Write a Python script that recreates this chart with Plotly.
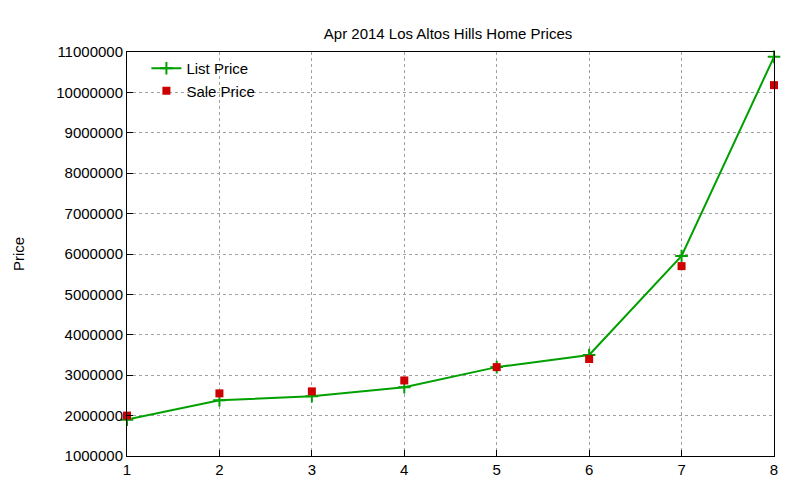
import plotly.graph_objects as go

homes = [1, 2, 3, 4, 5, 6, 7, 8]
list_price = [1900000, 2380000, 2480000, 2700000, 3200000, 3500000, 5950000, 10880000]
sale_price = [2000000, 2550000, 2600000, 2870000, 3200000, 3400000, 5700000, 10180000]

fig = go.Figure()
fig.add_trace(go.Scatter(x=homes, y=list_price, name='List Price', mode='lines+markers',
                         cliponaxis=False,
                         line=dict(color='#00a000', width=2),
                         marker=dict(symbol='cross-thin', size=9, line=dict(color='#00a000', width=2))))
fig.add_trace(go.Scatter(x=homes, y=sale_price, name='Sale Price', mode='markers',
                         cliponaxis=False,
                         marker=dict(symbol='square', size=8, color='#cc0000')))

axis = dict(showline=True, mirror=True, linecolor='black', linewidth=1,
            ticks='inside', ticklen=6, tickcolor='black', automargin=False,
            showgrid=True, gridcolor='#a0a0a0', griddash='dot', gridwidth=1,
            zeroline=False, tickfont=dict(size=15, color='black'))

fig.update_layout(
    width=800, height=480,
    title=dict(text='Apr 2014 Los Altos Hills Home Prices', x=0.55, xanchor='center', y=0.958,
               font=dict(size=15, color='black')),
    font=dict(family='Liberation Sans, Arial, sans-serif', color='black'),
    paper_bgcolor='white', plot_bgcolor='white',
    margin=dict(l=119, r=34, t=44, b=32, autoexpand=False),
    xaxis=dict(axis, range=[1, 8], dtick=1),
    yaxis=dict(axis, range=[1000000, 11000000], dtick=1000000, tickformat='d',
               title=dict(text='Price', font=dict(size=15), standoff=28)),
    legend=dict(x=0.03, y=1.0, xanchor='left', yanchor='top', bgcolor='rgba(0,0,0,0)',
                font=dict(size=15), tracegroupgap=0),
)

fig.write_html("out.html")
